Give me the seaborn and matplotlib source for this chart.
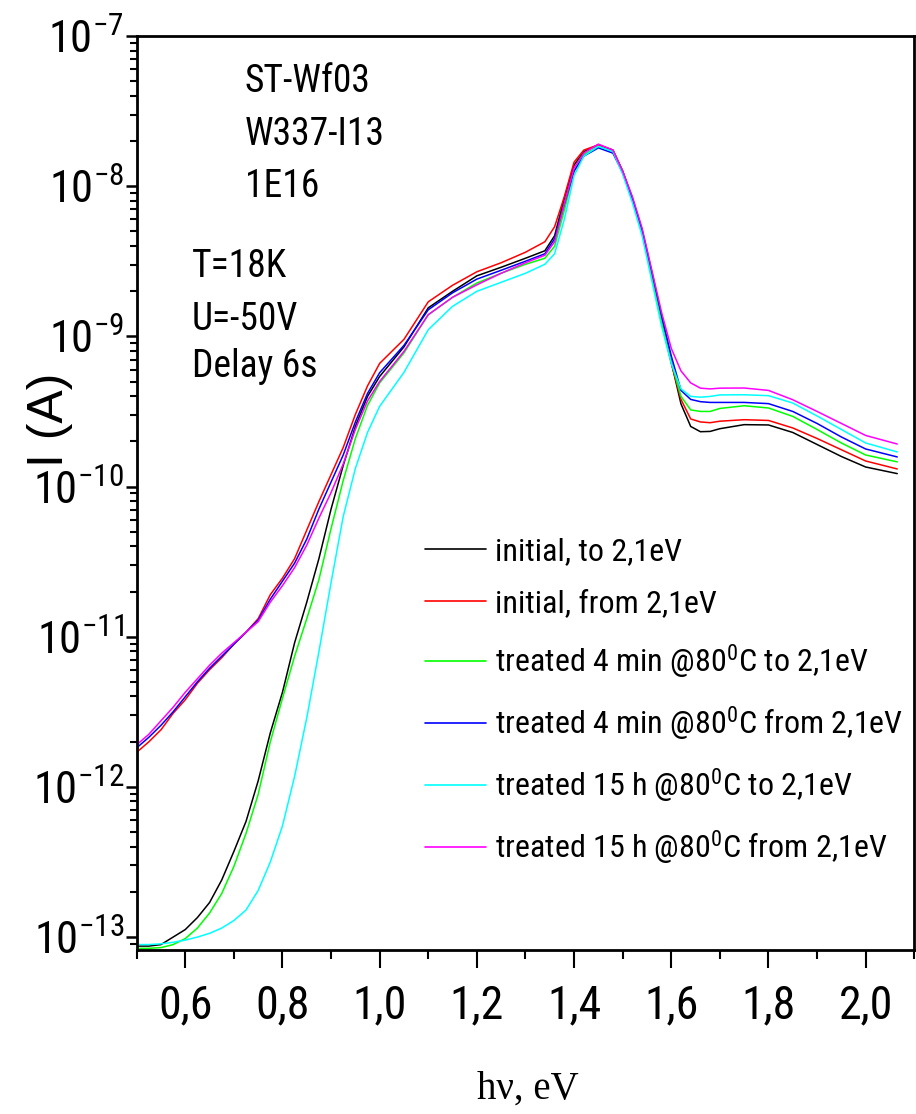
import numpy as np
import pandas as pd
import matplotlib
matplotlib.use("Agg")
import matplotlib.pyplot as plt
import matplotlib.ticker as mticker
import seaborn as sns
from matplotlib import font_manager

# ---------------- data (log10 of current in A) ----------------
energy = [0.500, 0.525, 0.550, 0.575, 0.600, 0.625, 0.650, 0.675, 0.700, 0.725,
          0.750, 0.775, 0.800, 0.825, 0.850, 0.875, 0.900, 0.925, 0.950, 0.975,
          1.000, 1.050, 1.100, 1.150, 1.200, 1.250, 1.300, 1.340, 1.360, 1.380,
          1.400, 1.420, 1.450, 1.480, 1.500, 1.520, 1.540, 1.560, 1.580, 1.600,
          1.620, 1.640, 1.660, 1.680, 1.700, 1.750, 1.800, 1.850, 1.900, 1.950,
          2.000, 2.065]

log_initial_to = [-13.06, -13.06, -13.05, -13.00, -12.95, -12.87, -12.77, -12.62, -12.43, -12.23,
                  -11.96, -11.64, -11.37, -11.04, -10.77, -10.48, -10.15, -9.86, -9.60, -9.40,
                  -9.267, -9.07, -8.81, -8.70, -8.597, -8.54, -8.48, -8.43, -8.33, -8.08,
                  -7.86, -7.77, -7.725, -7.76, -7.90, -8.08, -8.30, -8.59, -8.89, -9.17,
                  -9.45, -9.60, -9.635, -9.633, -9.615, -9.588, -9.59, -9.64, -9.72, -9.80,
                  -9.87, -9.914]

log_initial_from = [-11.77, -11.70, -11.62, -11.51, -11.42, -11.31, -11.22, -11.14, -11.05, -10.97,
                    -10.88, -10.72, -10.61, -10.48, -10.29, -10.10, -9.92, -9.74, -9.52, -9.33,
                    -9.18, -9.02, -8.77, -8.66, -8.57, -8.51, -8.44, -8.37, -8.27, -8.07,
                    -7.84, -7.76, -7.725, -7.76, -7.90, -8.09, -8.30, -8.60, -8.90, -9.18,
                    -9.42, -9.55, -9.57, -9.575, -9.565, -9.555, -9.56, -9.61, -9.68, -9.755,
                    -9.83, -9.883]

log_4min_to = [-13.075, -13.075, -13.07, -13.05, -13.01, -12.94, -12.84, -12.71, -12.53, -12.31,
               -12.05, -11.70, -11.41, -11.13, -10.88, -10.62, -10.28, -9.96, -9.68, -9.46,
               -9.31, -9.11, -8.856, -8.74, -8.645, -8.58, -8.52, -8.48, -8.40, -8.16,
               -7.90, -7.79, -7.735, -7.77, -7.91, -8.09, -8.31, -8.60, -8.90, -9.17,
               -9.40, -9.49, -9.50, -9.50, -9.48, -9.462, -9.477, -9.533, -9.62, -9.71,
               -9.79, -9.836]

log_4min_from = [-11.74, -11.67, -11.59, -11.50, -11.40, -11.30, -11.21, -11.13, -11.05, -10.97,
                 -10.89, -10.75, -10.63, -10.51, -10.35, -10.15, -9.97, -9.79, -9.57, -9.38,
                 -9.242, -9.06, -8.823, -8.71, -8.619, -8.56, -8.50, -8.45, -8.35, -8.12,
                 -7.90, -7.80, -7.745, -7.78, -7.91, -8.08, -8.29, -8.57, -8.86, -9.13,
                 -9.36, -9.42, -9.435, -9.44, -9.44, -9.44, -9.448, -9.50, -9.58, -9.67,
                 -9.75, -9.803]

log_15h_to = [-13.05, -13.05, -13.045, -13.035, -13.02, -13.00, -12.975, -12.94, -12.89, -12.82,
              -12.69, -12.50, -12.26, -11.93, -11.54, -11.10, -10.64, -10.20, -9.88, -9.64,
              -9.466, -9.24, -8.956, -8.80, -8.70, -8.64, -8.58, -8.52, -8.45, -8.22,
              -7.93, -7.80, -7.735, -7.77, -7.92, -8.11, -8.33, -8.63, -8.93, -9.18,
              -9.35, -9.40, -9.405, -9.40, -9.39, -9.389, -9.395, -9.444, -9.53, -9.62,
              -9.71, -9.77]

log_15h_from = [-11.72, -11.65, -11.56, -11.47, -11.37, -11.28, -11.19, -11.11, -11.04, -10.97,
                -10.90, -10.77, -10.66, -10.54, -10.39, -10.21, -10.04, -9.85, -9.62, -9.43,
                -9.30, -9.10, -8.856, -8.74, -8.657, -8.58, -8.51, -8.46, -8.37, -8.12,
                -7.88, -7.78, -7.72, -7.76, -7.90, -8.07, -8.28, -8.56, -8.84, -9.08,
                -9.23, -9.31, -9.345, -9.35, -9.345, -9.344, -9.36, -9.422, -9.50, -9.58,
                -9.66, -9.717]

series_labels = [
    "initial, to 2,1eV",
    "initial, from 2,1eV",
    "treated 4 min @80$^0$C to 2,1eV",
    "treated 4 min @80$^0$C from 2,1eV",
    "treated 15 h @80$^0$C to 2,1eV",
    "treated 15 h @80$^0$C from 2,1eV",
]
series_colors = ["#000000", "#ff0000", "#00ff00", "#0000ff", "#00ffff", "#ff00ff"]

x_tick_values = [0.6, 0.8, 1.0, 1.2, 1.4, 1.6, 1.8, 2.0]
x_tick_labels = ["0,6", "0,8", "1,0", "1,2", "1,4", "1,6", "1,8", "2,0"]
y_tick_values = [1e-13, 1e-12, 1e-11, 1e-10, 1e-9, 1e-8, 1e-7]
y_tick_labels = [r"$10^{-13}$", r"$10^{-12}$", r"$10^{-11}$", r"$10^{-10}$",
                 r"$10^{-9}$", r"$10^{-8}$", r"$10^{-7}$"]

info_sample = ["ST-Wf03", "W337-I13", "1E16"]
info_conditions = ["T=18K", "U=-50V", "Delay 6s"]

# ---------------- build table ----------------
all_logs = [log_initial_to, log_initial_from, log_4min_to, log_4min_from, log_15h_to, log_15h_from]
frames = []
for lab, lg in zip(series_labels, all_logs):
    frames.append(pd.DataFrame({"E": energy, "I": np.power(10.0, np.array(lg)), "series": lab}))
df = pd.concat(frames, ignore_index=True)

# ---------------- style ----------------
sns.set_style("white")
available = {f.name for f in font_manager.fontManager.ttflist}
narrow = None
for cand in ["Liberation Sans Narrow", "Arial Narrow", "Roboto Condensed"]:
    if cand in available:
        narrow = cand
        break
if narrow is None:
    main_font = "Liberation Sans"
    sz = dict(yt=27, xt=27, info=23, leg=20)
else:
    main_font = narrow
    sz = dict(yt=32, xt=33, info=27, leg=23)

plt.rcParams["font.family"] = [main_font, "Liberation Sans", "DejaVu Sans"]
plt.rcParams["mathtext.fontset"] = "custom"
plt.rcParams["mathtext.rm"] = main_font
plt.rcParams["mathtext.it"] = main_font
plt.rcParams["mathtext.bf"] = main_font
plt.rcParams["axes.unicode_minus"] = False
for key in ["text.color", "axes.labelcolor", "xtick.color", "ytick.color", "axes.edgecolor"]:
    plt.rcParams[key] = "black"

fig = plt.figure(figsize=(9.16, 11.14), dpi=100)
ax = fig.add_axes([0.1492, 0.1472, 0.8489, 0.8205])

sns.lineplot(data=df, x="E", y="I", hue="series", hue_order=series_labels,
             palette=dict(zip(series_labels, series_colors)), estimator=None,
             sort=False, linewidth=1.1, ax=ax)

ax.set_yscale("log")
ax.set_xlim(0.5, 2.1)
ax.set_ylim(8.2e-14, 1e-7)

ax.xaxis.set_major_locator(mticker.FixedLocator(x_tick_values))
ax.xaxis.set_major_formatter(mticker.FixedFormatter(x_tick_labels))
ax.xaxis.set_minor_locator(mticker.MultipleLocator(0.1))
ax.yaxis.set_major_locator(mticker.FixedLocator(y_tick_values))
ax.yaxis.set_major_formatter(mticker.FixedFormatter(y_tick_labels))
ax.yaxis.set_minor_locator(mticker.LogLocator(base=10, subs=np.arange(2, 10), numticks=20))
ax.yaxis.set_minor_formatter(mticker.NullFormatter())

for sp in ax.spines.values():
    sp.set_linewidth(2.0)
    sp.set_color("black")
    sp.set_visible(True)

ax.tick_params(axis="both", which="both", bottom=True, left=True, top=False, right=False,
               direction="out", color="black")
ax.tick_params(axis="x", which="major", length=13, width=1.5, labelsize=sz["xt"], pad=11)
ax.tick_params(axis="x", which="minor", length=6.5, width=1.5)
ax.tick_params(axis="y", which="major", length=8, width=1.8, labelsize=sz["yt"], pad=1)
ax.tick_params(axis="y", which="minor", length=5, width=1.5)

ax.set_xlabel("hν, eV", fontsize=28, family=["Liberation Serif", "DejaVu Serif"])
ax.xaxis.set_label_coords(0.503, -0.132)
ax.set_ylabel("I (A)", fontsize=36, family=["Liberation Sans", "DejaVu Sans"])
ax.yaxis.set_label_coords(-0.082, 0.58)

for txt, yy in zip(info_sample, [0.9387, 0.8808, 0.8239]):
    ax.text(0.1393, yy, txt, transform=ax.transAxes, fontsize=sz["info"], va="baseline", ha="left")
for txt, yy in zip(info_conditions, [0.7363, 0.6783, 0.6269]):
    ax.text(0.0707, yy, txt, transform=ax.transAxes, fontsize=sz["info"], va="baseline", ha="left")

handles, labels = ax.get_legend_handles_labels()
leg = ax.legend(handles, labels, loc="upper left", bbox_to_anchor=(0.371, 0.452),
                frameon=False, fontsize=sz["leg"], handlelength=1.9, handletextpad=0.3,
                labelspacing=0.74, borderpad=0, borderaxespad=0)
for line in leg.get_lines():
    line.set_linewidth(1.2)

fig.savefig("out.png", dpi=100)
